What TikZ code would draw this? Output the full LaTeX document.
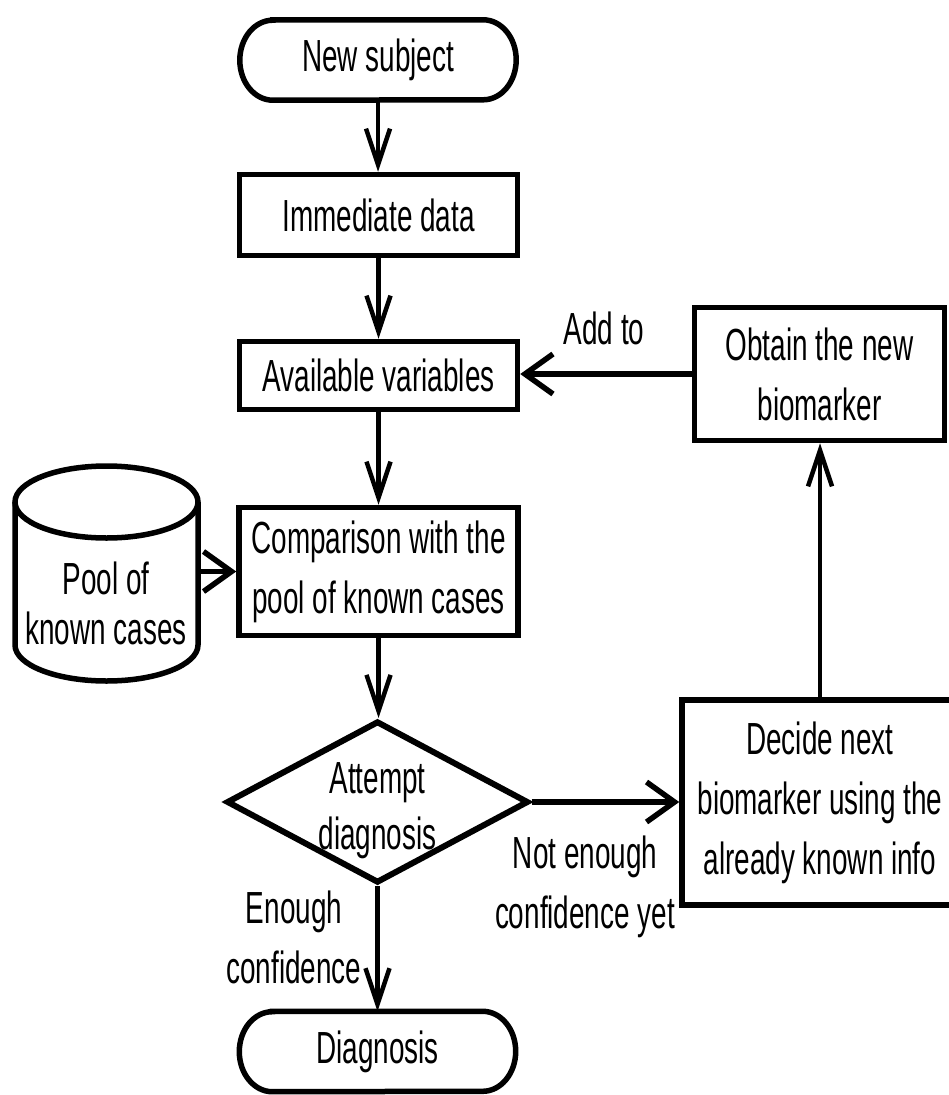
\documentclass[tikz,border=0pt]{standalone}
\usepackage{fontspec}
\setmainfont{Liberation Sans}[FakeStretch=0.62]
\usetikzlibrary{arrows.meta,shapes.geometric}
\begin{document}
\begin{tikzpicture}[x=1pt,y=1pt,
  every node/.style={font=\fontsize{45}{60}\selectfont, inner sep=0pt, align=center},
  box/.style={draw, line width=5.5pt},
  termbox/.style={minimum width=276, minimum height=80},
  diabox/.style={diamond, draw, line width=6pt, minimum width=302, minimum height=162},
  outline/.style={line width=5.5pt},
  varr/.style={line width=4.5pt, -{Straight Barb[length=36pt,width=24pt,line width=4.5pt]}},
  harr/.style={line width=5.5pt, -{Straight Barb[length=28pt,width=40pt,line width=5.5pt]}}
]
\useasboundingbox (0,0) rectangle (948,-1095);
\fill[white] (0,0) rectangle (948,-1095);

% terminators
\node[termbox] (ns) at (378,-60) {New subject};
\draw[outline] ([xshift=33pt]ns.north west) -- ([xshift=-33pt]ns.north east)
  arc[start angle=90,end angle=-90,x radius=33,y radius=40]
  -- ([xshift=33pt]ns.south west)
  arc[start angle=270,end angle=90,x radius=33,y radius=40] -- cycle;

\node[termbox] (diag) at (377.5,-1051.5) {Diagnosis};
\draw[outline] ([xshift=33pt]diag.north west) -- ([xshift=-33pt]diag.north east)
  arc[start angle=90,end angle=-90,x radius=33,y radius=40]
  -- ([xshift=33pt]diag.south west)
  arc[start angle=270,end angle=90,x radius=33,y radius=40] -- cycle;

% process boxes
\node[box, minimum width=278, minimum height=81] (imm) at (378.5,-215) {Immediate data};
\node[box, minimum width=278, minimum height=68] (avail) at (378.5,-375.5) {Available variables};
\node[box, minimum width=279, minimum height=128] (comp) at (378.5,-571.5) {Comparison with the\\pool of known cases};
\node[box, minimum width=250, minimum height=133] (obt) at (819.5,-374) {Obtain the new\\biomarker};
\node[box, minimum width=276, minimum height=205] (dec) at (820,-802.5) {Decide next\\biomarker using the\\already known info};

% decision
\node[diabox] (dia) at (377.5,-802) {};
\node[font=\fontsize{45}{56}\selectfont] (diat) at (377.5,-811) {Attempt\\diagnosis};

% cylinder
\draw[outline] (15,-502) -- (15,-645)
  arc[start angle=180,end angle=360,x radius=91.5,y radius=36] -- (198,-502);
\draw[outline] (106.5,-502) ellipse[x radius=91.5,y radius=36];
\node[font=\fontsize{45}{50}\selectfont] (pool) at (106,-603) {Pool of\\known cases};
\coordinate (poolE) at (198,-571.5);

% labels
\node (addto) at (604,-328) {Add to};
\node (notenough) at (585,-887) {Not enough\\confidence yet};
\node (enough) at (294,-937) {Enough\\confidence};

% connectors
\draw[varr] (ns.south) -- (ns.south |- imm.north);
\draw[varr] (imm) -- (avail);
\draw[varr] (avail) -- (comp);
\draw[varr] (comp.south) -- (comp.south |- dia.north);
\draw[varr] (dia.south) -- (dia.south |- diag.north);
\draw[harr] (dia.east) -- (dia.east -| dec.west);
\draw[varr] (dec.north) -- (dec.north |- obt.south);
\draw[harr] (obt.west) -- (obt.west -| avail.east);
\draw[harr] (poolE) -- (poolE -| comp.west);
\end{tikzpicture}
\end{document}
